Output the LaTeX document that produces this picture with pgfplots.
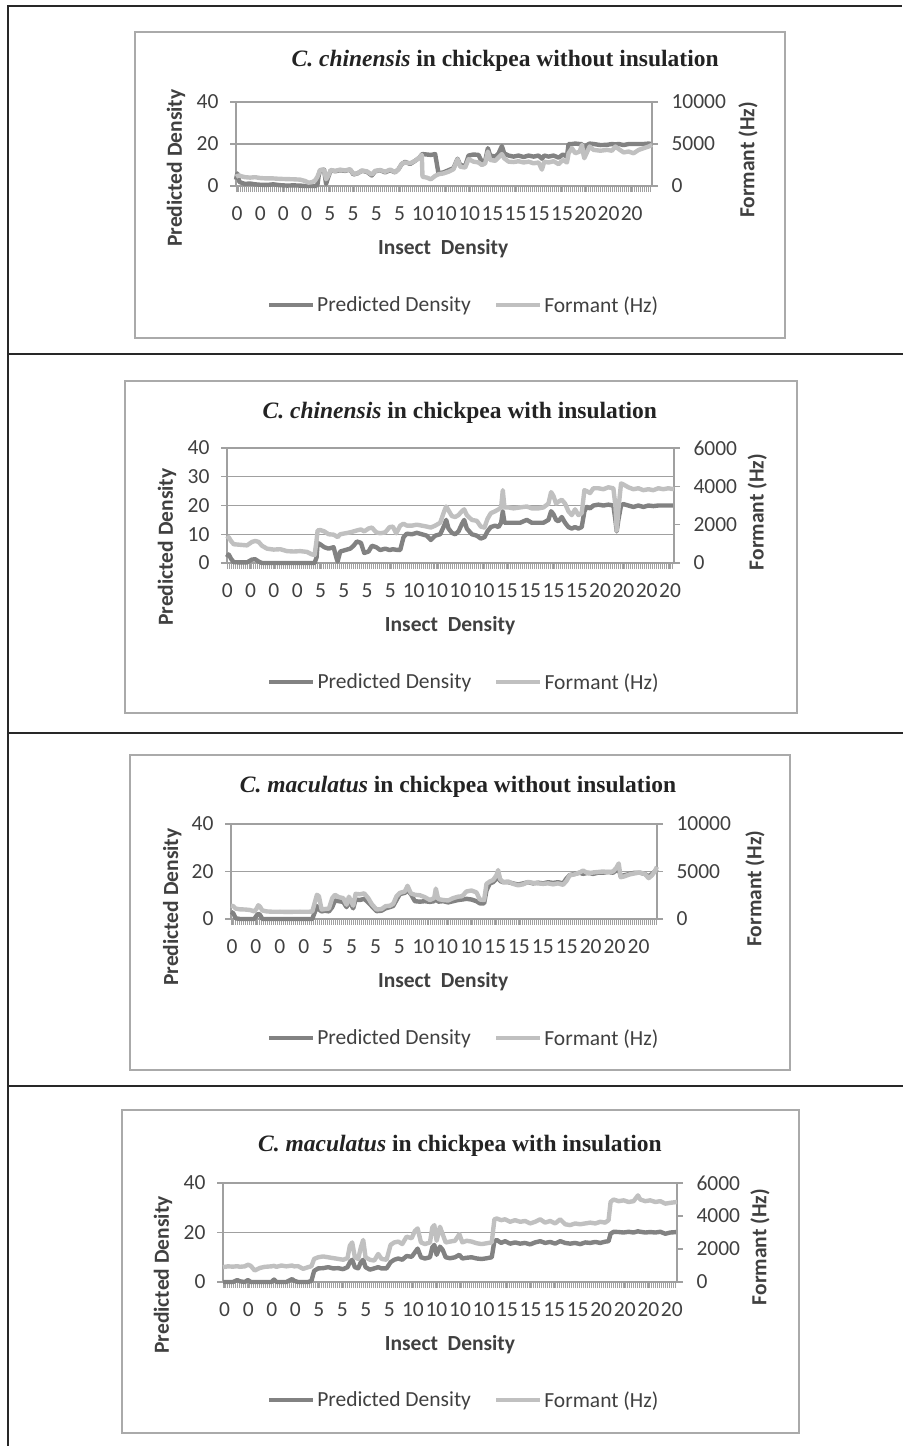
\documentclass[border=0pt]{standalone}
\usepackage{pgfplots}
\usepackage{pgfplotstable}
\pgfplotsset{compat=1.18}
\usepackage{fontspec}
\setmainfont{Carlito}
\newfontfamily\titlefont{Liberation Serif}
\definecolor{dkl}{RGB}{130,130,130}
\definecolor{ltl}{RGB}{192,192,192}
\definecolor{axg}{RGB}{160,160,160}
\definecolor{frm}{RGB}{170,170,170}
\definecolor{txt}{RGB}{64,64,64}
\definecolor{ttl}{RGB}{35,35,35}
\definecolor{tbl}{RGB}{40,40,40}
\newcommand{\tf}{\fontsize{21.5}{24}\selectfont}
\newcommand{\lbf}{\fontsize{21.5}{24}\selectfont\bfseries}
\newcommand{\ttf}{\fontsize{23.5}{26}\selectfont\titlefont\bfseries}

\pgfplotsset{
  leftax/.style={
    scale only axis, clip=false,
    axis x line=bottom, axis y line=left,
    axis line style={-, draw=axg, line width=1.4pt},
    ymin=0, ymax=40,
    ymajorgrids, grid style={draw=axg, line width=1.4pt},
    tick align=outside, major tick length=6pt, minor tick length=6pt,
    major tick style={draw=axg, line width=1.2pt},
    minor tick style={draw=axg, line width=0.7pt},
    tick label style={font=\tf, text=txt},
    xticklabel style={yshift=-11pt},
    yticklabel style={xshift=-8pt},
    /pgf/number format/assume math mode=true,
    /pgf/number format/1000 sep={},
    scaled y ticks=false,
    label style={font=\lbf, text=txt},
    title style={font=\ttf, text=ttl, anchor=center, yshift=-8pt},
    xlabel style={anchor=center, yshift=-2pt},
    ylabel style={anchor=center},
  },
  rightax/.style={
    scale only axis, clip=false,
    axis y line=right, axis x line=none,
    axis line style={-, draw=axg, line width=1.4pt},
    ymin=0,
    tick align=outside, major tick length=6pt,
    major tick style={draw=axg, line width=1.2pt},
    tick label style={font=\tf, text=txt},
    yticklabel style={xshift=10pt},
    /pgf/number format/assume math mode=true,
    /pgf/number format/1000 sep={},
    scaled y ticks=false,
    label style={font=\lbf, text=txt},
    ylabel style={anchor=center},
    legend style={draw=none, fill=none, legend columns=2, font=\tf, text=txt,
      anchor=center, nodes={inner sep=2pt},
      /tikz/every even column/.append style={column sep=21pt}},
    legend image code/.code={\draw[#1] (0pt,0pt) -- (44pt,0pt);},
  },
  pd/.style={draw=dkl, line width=4.4pt, line join=round},
  fm/.style={draw=ltl, line width=4.4pt, line join=round},
}

% Panel 1: C. chinensis without insulation (x = sample position)
\pgfplotstableread{
x p f
48 3 1100
52 6 1200
58 2 1250
65 1.5 1150
75 1 1050
90 1.2 1000
105 0.8 1050
120 0.6 950
140 0.5 900
160 0.8 900
180 0.4 850
200 0.2 820
220 0.3 800
240 0.2 760
255 0 600
265 0 400
275 0 450
285 0 650
292 0.5 1100
296 5 1500
300 7.5 1900
312 7.8 1950
318 1 800
324 4 1200
332 7.5 1900
345 7 1800
360 7.5 1950
375 7.2 1850
390 7.8 2000
400 5.5 1450
412 6 1500
425 7.2 1850
440 6.8 1750
455 5 1350
465 7 1800
480 7.5 1900
495 6.5 1700
510 7.5 1950
525 6.5 1650
535 8 2000
545 10.5 2650
555 11.5 2800
570 10.5 2700
585 12 3000
598 13.5 3400
605 15 3700
607 15.2 1100
620 15 1000
632 14.8 800
645 15.2 1200
655 6 1400
670 6.5 1500
685 7.5 1700
700 8.5 2000
712 13 3200
720 10 2300
735 9.5 2200
745 14.5 3200
760 15 2900
775 14.8 2800
785 11.5 2500
795 12 2700
803 18 4100
810 14.5 3100
825 14 3000
835 15.5 3400
845 19 3800
852 15.5 3300
865 14.5 2900
880 14 2850
895 14.5 2950
910 13.8 2800
925 14.5 2900
940 14 2700
955 14.5 2800
965 13 1950
972 14.5 2900
985 14 2800
1000 14.5 2950
1015 13.5 2600
1028 15 3100
1040 14 2800
1045 20 3900
1055 20 4500
1065 20.2 3900
1078 20 4100
1085 20 4900
1092 14 3300
1100 19.5 4000
1108 20.2 4700
1120 20 4300
1140 19.5 4200
1160 19.6 4300
1175 20 4200
1185 19.8 4700
1195 20 4400
1210 19.5 4000
1225 20 4100
1240 20 3900
1255 20 4300
1270 20 4500
1285 20.2 4700
1295 20 4900
}\tA

% Panel 2: C. chinensis with insulation
\pgfplotstableread{
x p f
20 2 1250
25 3 1350
32 1.5 1150
40 0.3 980
60 0.2 950
80 0.2 920
95 1.2 1100
105 1.3 1150
115 0.5 1100
125 0 900
140 0 750
160 0 700
180 0 720
200 0 620
220 0 600
240 0 620
260 0 580
275 0 450
283 0 420
289 2 1200
292 7 1700
300 6.5 1720
312 5.5 1650
325 5 1500
340 5.5 1480
348 2 1400
352 0.5 1350
360 4 1500
375 4.5 1550
390 5 1600
400 6 1650
410 7.5 1700
422 7 1750
432 3.5 1650
445 4 1800
455 6 1850
468 5.5 1600
480 4.5 1550
495 5 1600
508 4.5 1870
518 4.8 1900
528 4.6 1550
540 4.5 1950
550 9 2050
560 10.2 1950
575 10 1950
590 10.5 2000
605 10 1950
620 9.5 1900
632 8 1850
645 9.5 1950
660 10 2100
672 13 2700
678 15 2950
685 12 2750
695 10.5 2450
705 10 2400
715 11 2500
725 13.5 2700
732 15 2800
740 12 2500
755 10 2250
770 9.5 2200
782 8.5 1900
793 9 1850
802 11 2300
812 12.5 2600
825 13 2700
835 12.5 2800
843 14 2900
848 18 3800
853 14 2900
865 14 2900
880 14 2850
900 14 2900
920 15 2950
935 14 2850
955 14 2850
970 14 2900
985 15 3100
993 18 3700
1000 17 3500
1008 15 3100
1015 14.5 3200
1025 16 3300
1035 14 3100
1045 12.5 2700
1055 12 2500
1065 12.5 2800
1075 12 2500
1085 12.5 2600
1093 18 3800
1100 19.5 3750
1110 19 3650
1120 20 3900
1135 20.3 3900
1150 20 3850
1165 20.3 3950
1180 20 3900
1186 15 3000
1190 11 1700
1195 15 2800
1203 20 4150
1210 20.5 4100
1225 20 3950
1240 19.5 3850
1255 20 3900
1270 19.5 3800
1285 20 3850
1300 19.8 3800
1315 20 3900
1330 20 3850
1345 20 3900
1362 20 3850
}\tB

% Panel 3: C. maculatus without insulation
\pgfplotstableread{
x p f
18 3 1400
25 2.4 1350
32 0.3 1100
45 0 1020
60 0 1000
75 0 950
88 0 800
95 1.5 1100
100 2.2 1450
105 1.8 1300
112 0 900
125 0 800
145 0 760
165 0 770
185 0 750
205 0 760
225 0 770
245 0 760
262 0 780
270 3 1800
276 5.5 2550
282 4 2400
290 3.2 1000
300 3.5 1050
312 3.2 1100
322 5 2200
330 7.8 2550
342 7.5 2300
355 7.2 2200
365 5 1500
372 7.5 2350
385 4.5 1400
392 8.2 2650
405 8 2600
418 8.5 2700
430 7 2200
440 5.5 1600
455 3.3 1000
470 3.5 1050
482 4.5 1350
495 5 1400
505 5.5 1600
515 8 2400
525 10.5 2750
540 11 2900
548 12 3500
558 10.5 2700
570 7.5 2550
585 7.3 2500
600 7.5 2300
615 7.2 2000
628 7.5 2200
633 9 3200
640 7.3 2100
655 7.5 2000
670 7 1950
685 7.5 2200
700 8 2350
712 8.2 2400
725 8.5 2900
740 8.2 3000
755 7.5 2800
765 6.6 2050
778 6.6 2000
785 12 3700
795 15 3950
805 15.5 4100
815 17 4600
820 19 5150
826 16 4200
835 15.5 3900
850 15.5 3950
865 15 3700
880 14.5 3550
895 15 3650
910 15.5 3900
925 15 3800
940 15.3 3750
955 15 3700
970 15.5 3750
985 15.2 3650
1000 15.5 3750
1015 15 3600
1025 17 4000
1035 18.5 4600
1050 19 4700
1065 19.5 4900
1075 19 5100
1090 19.5 4800
1105 19 4900
1120 19.5 4950
1135 19.5 5000
1150 19.8 4950
1165 19.5 5000
1175 20.5 5400
1182 21 5850
1188 18 4400
1200 18.5 4500
1215 19 4700
1230 19.5 4800
1245 19.5 4900
1260 19 4750
1272 18 4300
1282 19 4600
1290 20 5000
1297 21 5500
}\tC

% Panel 4: C. maculatus with insulation
\pgfplotstableread{
x p f
25 0 900
40 0 950
55 0 930
68 0.8 960
75 0.3 920
90 0 950
100 0.8 1050
108 0 980
120 0 700
135 0 850
150 0 920
170 0 950
178 1 980
185 0 920
200 0 1000
215 0 950
232 1.2 1000
238 0.5 950
250 0 960
265 0 800
280 0 900
290 0.5 960
298 4.5 1400
310 5.5 1500
325 5.6 1550
340 6 1500
355 5.5 1450
370 5.6 1400
385 5.2 1350
398 6 1450
405 8 2200
412 9 2400
420 6 1500
430 5.5 1400
438 8 2100
445 9 2550
452 6 1500
465 5 1350
478 5.5 1300
490 6 1700
500 5.5 1400
515 5.5 1350
527 8 2250
538 9 2400
550 9.5 2450
562 9 2300
575 10.5 2750
590 10.2 2650
600 12 3100
608 13.5 3250
618 10 2400
630 9.5 2300
645 10 2400
652 14 3300
658 15 3450
665 11 2500
675 14.3 3350
683 13 2900
692 10 2400
705 9.6 2450
720 10 2500
733 11 2900
742 9.5 2400
755 9.8 2500
770 10 2450
785 9.5 2350
800 9.3 2300
815 9.6 2350
830 10 2400
838 16.5 3800
845 17 3850
858 15.8 3750
870 16.5 3800
885 15.5 3650
900 16 3750
915 15.5 3650
930 15.8 3700
945 15.2 3550
960 16 3650
975 16.5 3800
990 15.8 3600
1005 16.2 3700
1020 15.5 3550
1035 16.5 3800
1050 15.8 3500
1065 15.5 3450
1080 15.8 3550
1095 15.3 3500
1110 16 3550
1125 15.8 3600
1140 16.2 3550
1155 15.8 3650
1170 16.3 3600
1180 16.5 3750
1186 19.5 4850
1195 20.3 5000
1210 20.2 4900
1225 20 4950
1240 20.3 4850
1255 20 4900
1268 20.5 5250
1275 20.3 5000
1290 20 4900
1305 20.2 4950
1320 20 4850
1335 20.3 4900
1350 19.5 4750
1365 20 4800
1385 20.2 4850
}\tD

\begin{document}
\begin{tikzpicture}
\path[use as bounding box] (0pt,0pt) rectangle (903pt,-1446pt);
% table rules
\draw[tbl, line width=2.2pt] (7pt,-6pt) -- (902pt,-6pt);
\draw[tbl, line width=1.5pt] (8pt,-5pt) -- (8pt,-1446pt);
\draw[tbl, line width=1.3pt] (8pt,-354pt) -- (903pt,-354pt);
\draw[tbl, line width=1.3pt] (8pt,-733pt) -- (903pt,-733pt);
\draw[tbl, line width=1.3pt] (8pt,-1086pt) -- (903pt,-1086pt);
% chart frames
\draw[frm, line width=2pt] (135pt,-32pt) rectangle (785pt,-338pt);
\draw[frm, line width=2pt] (125pt,-381pt) rectangle (797pt,-713pt);
\draw[frm, line width=2pt] (130pt,-755pt) rectangle (790pt,-1070pt);
\draw[frm, line width=2pt] (122pt,-1110pt) rectangle (799pt,-1433pt);

% ---------- Panel 1 ----------
\begin{axis}[leftax, at={(236pt,-186pt)}, width=416pt, height=84pt,
  xmin=48, xmax=1295, ytick={0,20,40},
  xtick={51,120.6,...,1240}, xticklabels={0,0,0,0,5,5,5,5,10,10,10,15,15,15,15,20,20,20},
  minor xtick={48,54,...,1295},
  title={\textit{C. chinensis} in chickpea without insulation},
  title style={at={(axis description cs:0.647,1.512)}},
  xlabel={Insect\ \ Density}, xlabel style={at={(axis description cs:0.498,-0.726)}},
  ylabel={Predicted Density}, ylabel style={at={(axis description cs:-0.144,0.214)}},
]
\addplot[pd] table[x=x,y=p]{\tA};
\end{axis}
\begin{axis}[rightax, at={(236pt,-186pt)}, width=416pt, height=84pt,
  xmin=48, xmax=1295, ymax=10000, ytick={0,5000,10000},
  ylabel={Formant (Hz)}, ylabel style={at={(axis description cs:1.231,0.31)}},
  legend style={at={(axis description cs:0.547,-1.417)}},
]
\addlegendimage{pd}\addlegendentry{Predicted Density}
\addplot[fm] table[x=x,y=f]{\tA};
\addlegendentry{Formant (Hz)}
\end{axis}

% ---------- Panel 2 ----------
\begin{axis}[leftax, at={(227pt,-563pt)}, width=447pt, height=115pt,
  xmin=20, xmax=1362, ytick={0,10,20,30,40},
  xtick={21,90.95,...,1356}, xticklabels={0,0,0,0,5,5,5,5,10,10,10,10,15,15,15,15,20,20,20,20},
  minor xtick={20,26,...,1362},
  title={\textit{C. chinensis} in chickpea with insulation},
  title style={at={(axis description cs:0.521,1.322)}},
  xlabel={Insect\ \ Density}, xlabel style={at={(axis description cs:0.499,-0.530)}},
  ylabel={Predicted Density}, ylabel style={at={(axis description cs:-0.134,0.139)}},
]
\addplot[pd] table[x=x,y=p]{\tB};
\end{axis}
\begin{axis}[rightax, at={(227pt,-563pt)}, width=447pt, height=115pt,
  xmin=20, xmax=1362, ymax=6000, ytick={0,2000,4000,6000},
  ylabel={Formant (Hz)}, ylabel style={at={(axis description cs:1.186,0.443)}},
  legend style={at={(axis description cs:0.530,-1.035)}},
]
\addlegendimage{pd}\addlegendentry{Predicted Density}
\addplot[fm] table[x=x,y=f]{\tB};
\addlegendentry{Formant (Hz)}
\end{axis}

% ---------- Panel 3 ----------
\begin{axis}[leftax, at={(231pt,-919pt)}, width=426pt, height=95pt,
  xmin=18, xmax=1297, ytick={0,20,40},
  xtick={21,92.8,...,1250}, xticklabels={0,0,0,0,5,5,5,5,10,10,10,15,15,15,15,20,20,20},
  minor xtick={18,24,...,1297},
  title={\textit{C. maculatus} in chickpea without insulation},
  title style={at={(axis description cs:0.533,1.411)}},
  xlabel={Insect\ \ Density}, xlabel style={at={(axis description cs:0.498,-0.642)}},
  ylabel={Predicted Density}, ylabel style={at={(axis description cs:-0.138,0.126)}},
]
\addplot[pd] table[x=x,y=p]{\tC};
\end{axis}
\begin{axis}[rightax, at={(231pt,-919pt)}, width=426pt, height=95pt,
  xmin=18, xmax=1297, ymax=10000, ytick={0,5000,10000},
  ylabel={Formant (Hz)}, ylabel style={at={(axis description cs:1.23,0.32)}},
  legend style={at={(axis description cs:0.546,-1.253)}},
]
\addlegendimage{pd}\addlegendentry{Predicted Density}
\addplot[fm] table[x=x,y=f]{\tC};
\addlegendentry{Formant (Hz)}
\end{axis}

% ---------- Panel 4 ----------
\begin{axis}[leftax, at={(223pt,-1282pt)}, width=454pt, height=99pt,
  xmin=25, xmax=1385, ytick={0,20,40},
  xtick={30,100.5,...,1376}, xticklabels={0,0,0,0,5,5,5,5,10,10,10,10,15,15,15,15,20,20,20,20},
  minor xtick={25,31,...,1385},
  title={\textit{C. maculatus} in chickpea with insulation},
  title style={at={(axis description cs:0.522,1.394)}},
  xlabel={Insect\ \ Density}, xlabel style={at={(axis description cs:0.5,-0.616)}},
  ylabel={Predicted Density}, ylabel style={at={(axis description cs:-0.132,0.071)}},
]
\addplot[pd] table[x=x,y=p]{\tD};
\end{axis}
\begin{axis}[rightax, at={(223pt,-1282pt)}, width=454pt, height=99pt,
  xmin=25, xmax=1385, ymax=6000, ytick={0,2000,4000,6000},
  ylabel={Formant (Hz)}, ylabel style={at={(axis description cs:1.183,0.354)}},
  legend style={at={(axis description cs:0.53,-1.192)}},
]
\addlegendimage{pd}\addlegendentry{Predicted Density}
\addplot[fm] table[x=x,y=f]{\tD};
\addlegendentry{Formant (Hz)}
\end{axis}
\end{tikzpicture}
\end{document}
